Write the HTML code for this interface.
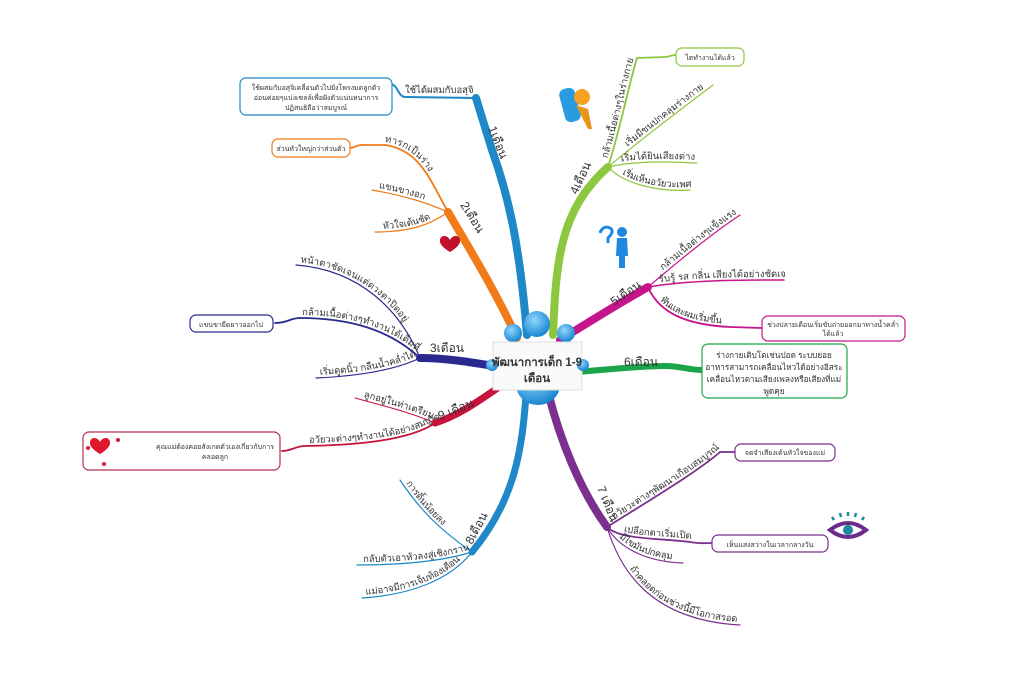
<!DOCTYPE html>
<html><head><meta charset="utf-8"><style>
html,body{margin:0;padding:0;background:#fff;}
svg{display:block;font-family:"Liberation Sans","Noto Sans CJK SC",sans-serif;}
.t{font-size:9.5px;fill:#333;}
.s{font-size:7px;fill:#333;}
.m{font-size:12px;fill:#333;}
</style></head><body>
<svg width="1024" height="693" viewBox="0 0 1024 693" xmlns="http://www.w3.org/2000/svg">
<defs>
<radialGradient id="bl" cx="40%" cy="35%" r="65%"><stop offset="0" stop-color="#8fd8ff"/><stop offset="1" stop-color="#1a86d0"/></radialGradient>
<path id="p2a" d="M362 145 L385 145 C420 150 430 180 448 212"/>
<path id="p2b" d="M372 190 C400 195 420 200 448 212"/>
<path id="p2c" d="M375 232 C410 232 430 225 448 212"/>
<path id="p3a" d="M296 265 C360 270 400 310 420 358"/>
<path id="p3b" d="M300 318 C350 318 390 330 420 358"/>
<path id="p3c" d="M316 378 C360 376 395 370 420 358"/>
<path id="p4a" d="M608 167 C620 130 630 80 637 58"/>
<path id="p4b" d="M608 167 C640 140 680 110 713 85"/>
<path id="p4c" d="M608 167 C640 160 670 162 697 163"/>
<path id="p4d" d="M608 167 C625 185 660 192 690 190"/>
<path id="p5a" d="M648 287 C680 260 710 235 740 215"/>
<path id="p5b" d="M648 287 C690 280 740 280 784 280"/>
<path id="p5c" d="M648 287 C660 315 690 325 730 327 L762 328"/>
<path id="p7a" d="M607 527 C650 500 700 470 720 452"/>
<path id="p7b" d="M607 527 C620 540 660 538 690 542 C700 544 705 543 712 543"/>
<path id="p7c" d="M607 527 C620 550 650 562 683 563"/>
<path id="p7d" d="M607 527 C620 570 650 620 740 625"/>
<path id="p8a" d="M400 480 C420 510 440 530 472 552"/>
<path id="p8b" d="M357 565 C400 565 440 562 472 552"/>
<path id="p8c" d="M362 598 C410 595 450 580 472 552"/>
<path id="p9a" d="M355 398 C380 405 410 412 435 423"/>
<path id="p9b" d="M305 446 C360 445 410 440 435 423"/>
</defs>
<rect width="1024" height="693" fill="#fff"/>
<g fill="none" stroke-linecap="round">
<path d="M527 335 C520 250 510 200 492 150 L476 98" stroke="#1e88c8" stroke-width="8"/>
<path d="M476 98 L405 97 C398 97 398 84 390 84" stroke="#1e88c8" stroke-width="2"/>
<path d="M517 338 C495 290 470 250 448 212" stroke="#f07b18" stroke-width="8"/>
<use href="#p2a" stroke="#f07b18" stroke-width="1.8"/>
<path d="M362 145 C355 145 355 148 350 148" stroke="#f07b18" stroke-width="1.8"/>
<use href="#p2b" stroke="#f07b18" stroke-width="1.2"/>
<use href="#p2c" stroke="#f07b18" stroke-width="1.2"/>
<path d="M553 335 C556 260 560 210 608 167" stroke="#8dc63f" stroke-width="8"/>
<use href="#p4a" stroke="#8dc63f" stroke-width="1.8"/>
<path d="M637 58 L665 57 C670 57 670 55 676 55" stroke="#8dc63f" stroke-width="1.8"/>
<use href="#p4b" stroke="#8dc63f" stroke-width="1.2"/>
<use href="#p4c" stroke="#8dc63f" stroke-width="1.2"/>
<use href="#p4d" stroke="#8dc63f" stroke-width="1.2"/>
<path d="M560 340 C600 315 625 300 648 287" stroke="#c5158a" stroke-width="8"/>
<use href="#p5a" stroke="#c5158a" stroke-width="1.2"/>
<use href="#p5b" stroke="#c5158a" stroke-width="1.5"/>
<use href="#p5c" stroke="#c5158a" stroke-width="1.8"/>
<path d="M578 372 C620 368 650 366 665 366 C680 366 690 370 702 370" stroke="#1aa54a" stroke-width="6"/>
<path d="M548 392 C560 440 580 490 607 527" stroke="#7b2f8e" stroke-width="8"/>
<use href="#p7a" stroke="#7b2f8e" stroke-width="1.8"/>
<path d="M720 452 L735 452" stroke="#7b2f8e" stroke-width="1.8"/>
<use href="#p7b" stroke="#7b2f8e" stroke-width="1.8"/>
<use href="#p7c" stroke="#7b2f8e" stroke-width="1.2"/>
<use href="#p7d" stroke="#7b2f8e" stroke-width="1.2"/>
<path d="M526 395 C522 450 515 500 472 552" stroke="#1e88c8" stroke-width="7"/>
<use href="#p8a" stroke="#1e88c8" stroke-width="1.2"/>
<use href="#p8b" stroke="#1e88c8" stroke-width="1.2"/>
<use href="#p8c" stroke="#1e88c8" stroke-width="1.2"/>
<path d="M505 383 C480 400 460 415 435 423" stroke="#c8143c" stroke-width="7"/>
<use href="#p9a" stroke="#c8143c" stroke-width="1"/>
<use href="#p9b" stroke="#c8143c" stroke-width="1.8"/>
<path d="M305 446 C295 446 292 451 282 451" stroke="#c8143c" stroke-width="1.8"/>
<path d="M500 367 C470 362 445 358 420 358" stroke="#2a2a8e" stroke-width="8"/>
<use href="#p3a" stroke="#2a2a8e" stroke-width="1.2"/>
<use href="#p3b" stroke="#2a2a8e" stroke-width="1.8"/>
<path d="M300 318 C290 318 288 323 275 323" stroke="#2a2a8e" stroke-width="1.8"/>
<use href="#p3c" stroke="#2a2a8e" stroke-width="1.2"/>
</g>

<g fill="#fff" stroke-width="1.2">
<rect x="240" y="78" width="152" height="37" rx="6" stroke="#1e88c8"/>
<rect x="272" y="139" width="78" height="18" rx="6" stroke="#f07b18"/>
<rect x="676" y="48" width="68" height="18" rx="6" stroke="#8dc63f"/>
<rect x="762" y="316" width="143" height="25" rx="6" stroke="#c5158a"/>
<rect x="702" y="344" width="145" height="54" rx="6" stroke="#1aa54a"/>
<rect x="735" y="444" width="100" height="17" rx="6" stroke="#7b2f8e"/>
<rect x="712" y="535" width="116" height="17" rx="6" stroke="#7b2f8e"/>
<rect x="190" y="315" width="83" height="17" rx="6" stroke="#2a2a8e"/>
<rect x="83" y="432" width="197" height="38" rx="6" stroke="#b03050"/>
</g>
<g class="s" text-anchor="middle">
<text x="316" y="90">ใช้ผสมกับอสุจิเคลื่อนตัวไปยังโพรงมดลูกตัว</text>
<text x="316" y="100">อ่อนค่อยๆแบ่งเซลล์เพื่อฝังตัวแน่นหนาการ</text>
<text x="316" y="110">ปฏิสนธิถือว่าสมบูรณ์</text>
<text x="311" y="151">ส่วนหัวใหญ่กว่าส่วนตัว</text>
<text x="710" y="60">ไตทำงานได้แล้ว</text>
<text x="833" y="327">ช่วงปลายเดือนเริ่มขับถ่ายออกมาทางน้ำคล่ำ</text>
<text x="833" y="336">ได้แล้ว</text>
<text x="785" y="455">จดจำเสียงเต้นหัวใจของแม่</text>
<text x="770" y="547">เห็นแสงสว่างในเวลากลางวัน</text>
<text x="231" y="327">แขนขายืดยาวออกไป</text>
<text x="215" y="449">คุณแม่ต้องคอยสังเกตตัวเองเกี่ยวกับการ</text>
<text x="215" y="459">คลอดลูก</text>
</g>
<g font-size="8.2px" fill="#333" text-anchor="middle">
<text x="774" y="358">ร่างกายเติบโตเช่นปอด ระบบย่อย</text>
<text x="774" y="370">อาหารสามารถเคลื่อนไหวได้อย่างอิสระ</text>
<text x="774" y="382">เคลื่อนไหวตามเสียงเพลงหรือเสียงที่แม่</text>
<text x="774" y="394">พูดคุย</text>
</g>

<g class="m">
<text transform="translate(488,128) rotate(68)">1เดือน</text>
<text transform="translate(460,205) rotate(58)">2เดือน</text>
<text x="430" y="352">3เดือน</text>
<text transform="translate(577,195) rotate(-65)">4เดือน</text>
<text transform="translate(614,306) rotate(-35)">5เดือน</text>
<text x="624" y="366">6เดือน</text>
<text transform="translate(597,488) rotate(68)">7 เดือน</text>
<text transform="translate(472,545) rotate(-62)">8เดือน</text>
<text transform="translate(440,420) rotate(-22)">9 เดือน</text>
</g>
<g class="t">
<text x="405" y="93">ใช้ได้ผสมกับอสุจิ</text>
<text dy="-3"><textPath href="#p2a" startOffset="22">ทารกเป็นร่าง</textPath></text>
<text dy="-3"><textPath href="#p2b" startOffset="6">แขนขางอก</textPath></text>
<text dy="-3"><textPath href="#p2c" startOffset="8">หัวใจเต้นชัด</textPath></text>
<text dy="-3"><textPath href="#p3a" startOffset="4">หน้าตาชัดเจนแต่ดวงตาปิดอยู่</textPath></text>
<text dy="-3"><textPath href="#p3b" startOffset="2">กล้ามเนื้อต่างๆทำงานได้เต็มที่</textPath></text>
<text dy="-3"><textPath href="#p3c" startOffset="4">เริ่มดูดนิ้ว กลืนน้ำคล่ำได้</textPath></text>
<text dy="-3"><textPath href="#p4a" startOffset="8">กล้ามเนื้อต่างๆในร่างกายดี</textPath></text>
<text dy="-3"><textPath href="#p4b" startOffset="28">เริ่มมีขนปกคลุมร่างกาย</textPath></text>
<text dy="-3"><textPath href="#p4c" startOffset="14">เริ่มได้ยินเสียงต่างๆ</textPath></text>
<text dy="-3"><textPath href="#p4d" startOffset="16">เริ่มเห็นอวัยวะเพศ</textPath></text>
<text dy="-3"><textPath href="#p5a" startOffset="22">กล้ามเนื้อต่างๆแข็งแรง</textPath></text>
<text dy="-3"><textPath href="#p5b" startOffset="12">รับรู้ รส กลิ่น เสียงได้อย่างชัดเจน</textPath></text>
<text dy="-3"><textPath href="#p5c" startOffset="18">ฟันและผมเริ่มขึ้น</textPath></text>
<text dy="-3"><textPath href="#p7a" startOffset="10">อวัยวะต่างๆพัฒนาเกือบสมบูรณ์</textPath></text>
<text dy="-3"><textPath href="#p7b" startOffset="18">เปลือกตาเริ่มเปิด</textPath></text>
<text dy="-3"><textPath href="#p7c" startOffset="16">มีไขมันปกคลุม</textPath></text>
<text dy="-3"><textPath href="#p7d" startOffset="48">ถ้าคลอดก่อนช่วงนี้มีโอกาสรอด</textPath></text>
<text dy="-3"><textPath href="#p8a" startOffset="6">การดิ้นน้อยลง</textPath></text>
<text dy="-3"><textPath href="#p8b" startOffset="6">กลับตัวเอาหัวลงสู่เชิงกราน</textPath></text>
<text dy="-3"><textPath href="#p8c" startOffset="4">แม่อาจมีการเจ็บท้องเตือน</textPath></text>
<text dy="-3"><textPath href="#p9a" startOffset="8">ลูกอยู่ในท่าเตรียมคลอด</textPath></text>
<text dy="-3"><textPath href="#p9b" startOffset="4">อวัยวะต่างๆทำงานได้อย่างสมบูรณ์</textPath></text>
</g>

<ellipse cx="538" cy="385" rx="22" ry="20" fill="url(#bl)"/>
<circle cx="537" cy="324" r="13" fill="url(#bl)"/>
<circle cx="513" cy="333" r="9" fill="url(#bl)"/>
<circle cx="566" cy="333" r="9" fill="url(#bl)"/>
<rect x="493" y="342" width="89" height="48" fill="#fafafa" stroke="#ddd"/>
<circle cx="492" cy="365" r="6" fill="url(#bl)"/>
<circle cx="583" cy="365" r="6" fill="url(#bl)"/>
<text x="537" y="366" text-anchor="middle" font-size="11.5" font-weight="bold" fill="#333">พัฒนาการเด็ก 1-9</text>
<text x="537" y="382" text-anchor="middle" font-size="11.5" font-weight="bold" fill="#333">เดือน</text>

<path d="M450 240 c-3-6 -11-5 -10 2 c1 5 10 10 10 10 c0 0 9-5 10-10 c1-7 -7-8 -10-2z" fill="#c0102a"/>
<path d="M100 442 c-3-6 -11-5 -10 2 c1 5 10 10 10 10 c0 0 9-5 10-10 c1-7 -7-8 -10-2z" fill="#e0182c"/>
<circle cx="88" cy="448" r="2" fill="#d02030"/><circle cx="118" cy="440" r="2" fill="#d02030"/><circle cx="104" cy="464" r="2" fill="#d02030"/>
<rect x="562" y="88" width="16" height="34" rx="6" fill="#2a9be0" transform="rotate(-15 570 105)"/>
<circle cx="582" cy="97" r="8" fill="#f5a020"/>
<path d="M576 105 l12 4 l4 20 l-4 0z" fill="#e89518"/>
<path d="M600 233 q3-8 10-5 q5 3 -2 10 l0 5" stroke="#1e88e0" stroke-width="3" fill="none"/>
<circle cx="622" cy="232" r="5" fill="#1e88e0"/>
<path d="M617 238 h10 l1 18 h-3 v12 h-6 v-12 h-3z" fill="#1e88e0"/>
<path d="M830 530 q18-14 36 0 q-18 14 -36 0z" fill="none" stroke="#6a2d8e" stroke-width="4"/>
<circle cx="848" cy="530" r="5" fill="#1a8a9a"/>
<g stroke="#1a8a9a" stroke-width="2.5"><line x1="834" y1="520" x2="832" y2="517"/><line x1="841" y1="517" x2="840" y2="513"/><line x1="848" y1="516" x2="848" y2="512"/><line x1="855" y1="517" x2="856" y2="513"/><line x1="862" y1="520" x2="864" y2="517"/></g>
</svg>
</body></html>
